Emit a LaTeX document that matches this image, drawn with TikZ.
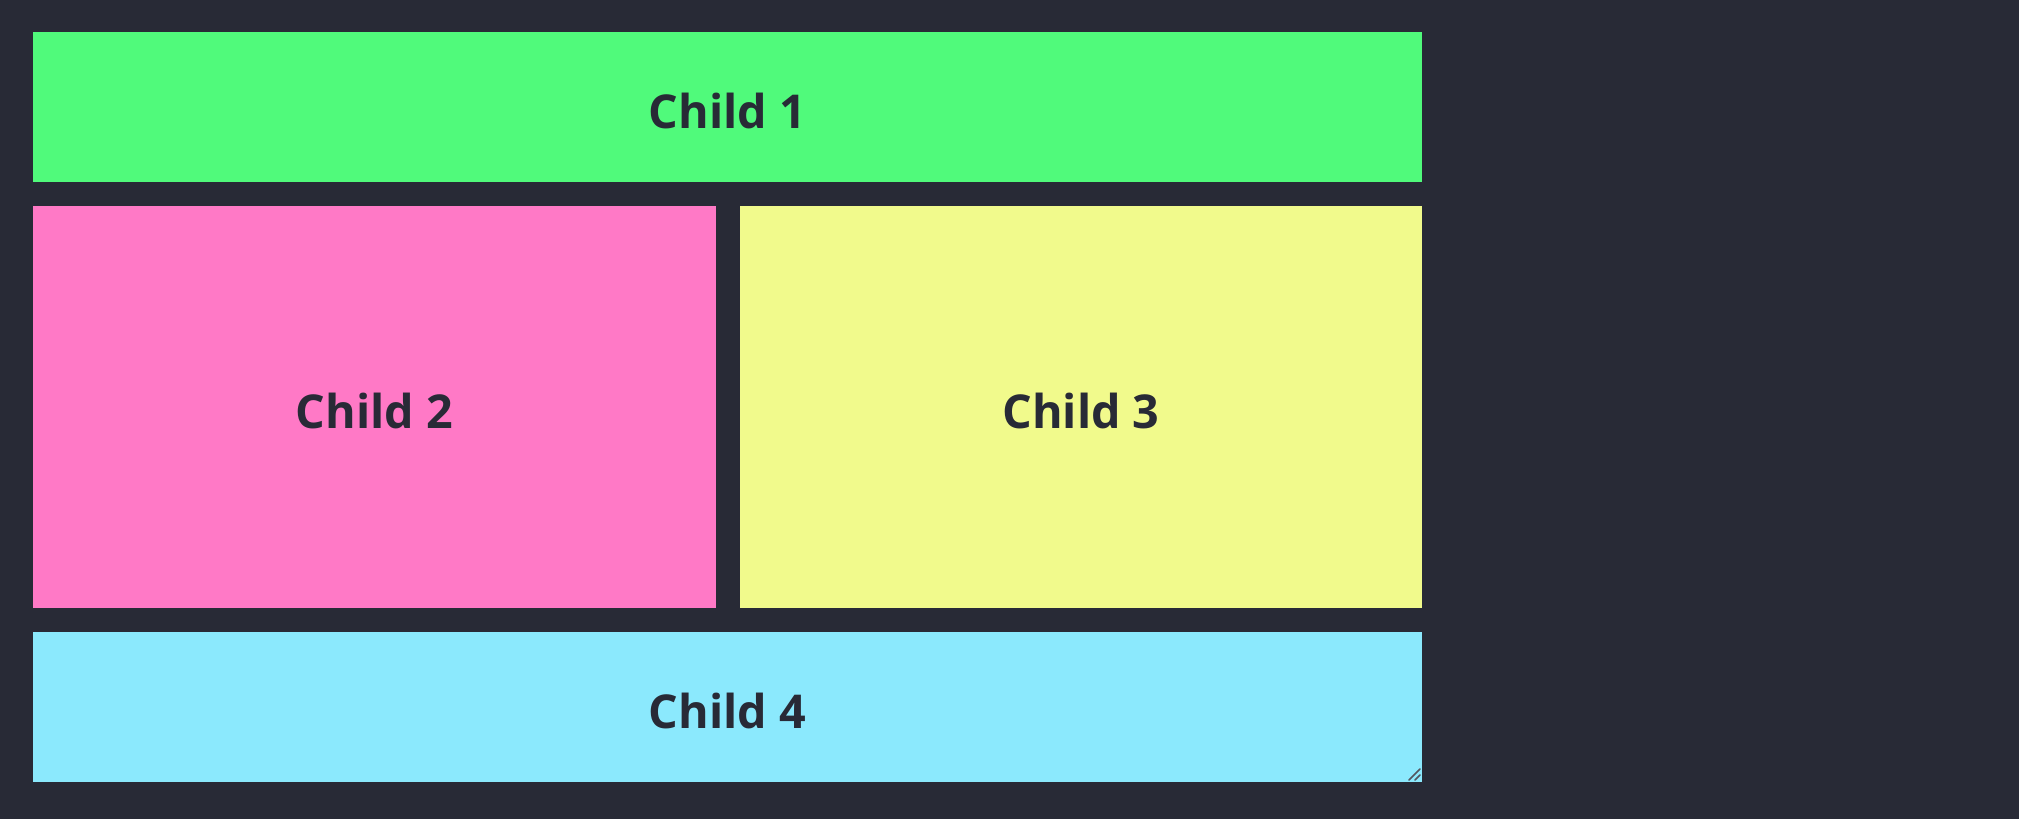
\documentclass[tikz,border=0pt]{standalone}
\usepackage{fontspec}
\setmainfont{Open Sans}
\usepackage{tikz}
\definecolor{ink}{RGB}{40, 42, 54}
\definecolor{green}{RGB}{80, 250, 123}
\definecolor{pink}{RGB}{255, 121, 198}
\definecolor{yellow}{RGB}{241, 250, 140}
\definecolor{cyan}{RGB}{139, 233, 253}
\def\pxunit{0.75pt}

\begin{document}
\begin{tikzpicture}[x=0.75pt, y=-0.75pt,
  panel/.style={anchor=north west, inner sep=0pt, outer sep=0pt,
    text height=32.5pt, text depth=0pt,
    text=ink, font=\fontsize{35}{42}\selectfont\bfseries}]

                 \fill[ink] (0, 0) rectangle (2019, 819);
                 \useasboundingbox (0, 0) rectangle (2019, 819);

                 \node[panel, fill=green, minimum width=1389*\pxunit, minimum height=150*\pxunit]
                 (child1) at (33, 32) {Child 1};

                 \node[panel, fill=pink, minimum width=683*\pxunit, minimum height=402*\pxunit]
                 (child2) at (33, 206) {Child 2};
                 \node[panel, fill=yellow, minimum width=682*\pxunit, minimum height=402*\pxunit]
                 (child3) at (740, 206) {Child 3};

                 \node[panel, fill=cyan, minimum width=1389*\pxunit, minimum height=150*\pxunit]
                 (child4) at (33, 632) {Child 4};

                 \draw[ink!80, line width=1.2pt, line cap=round]
                 ([shift={(-13, -2)}]child4.south east) -- ([shift={(-2, -13)}]child4.south east)
                 ([shift={(-7, -2)}]child4.south east) -- ([shift={(-2, -7)}]child4.south east);

             \end{tikzpicture}
\end{document}
